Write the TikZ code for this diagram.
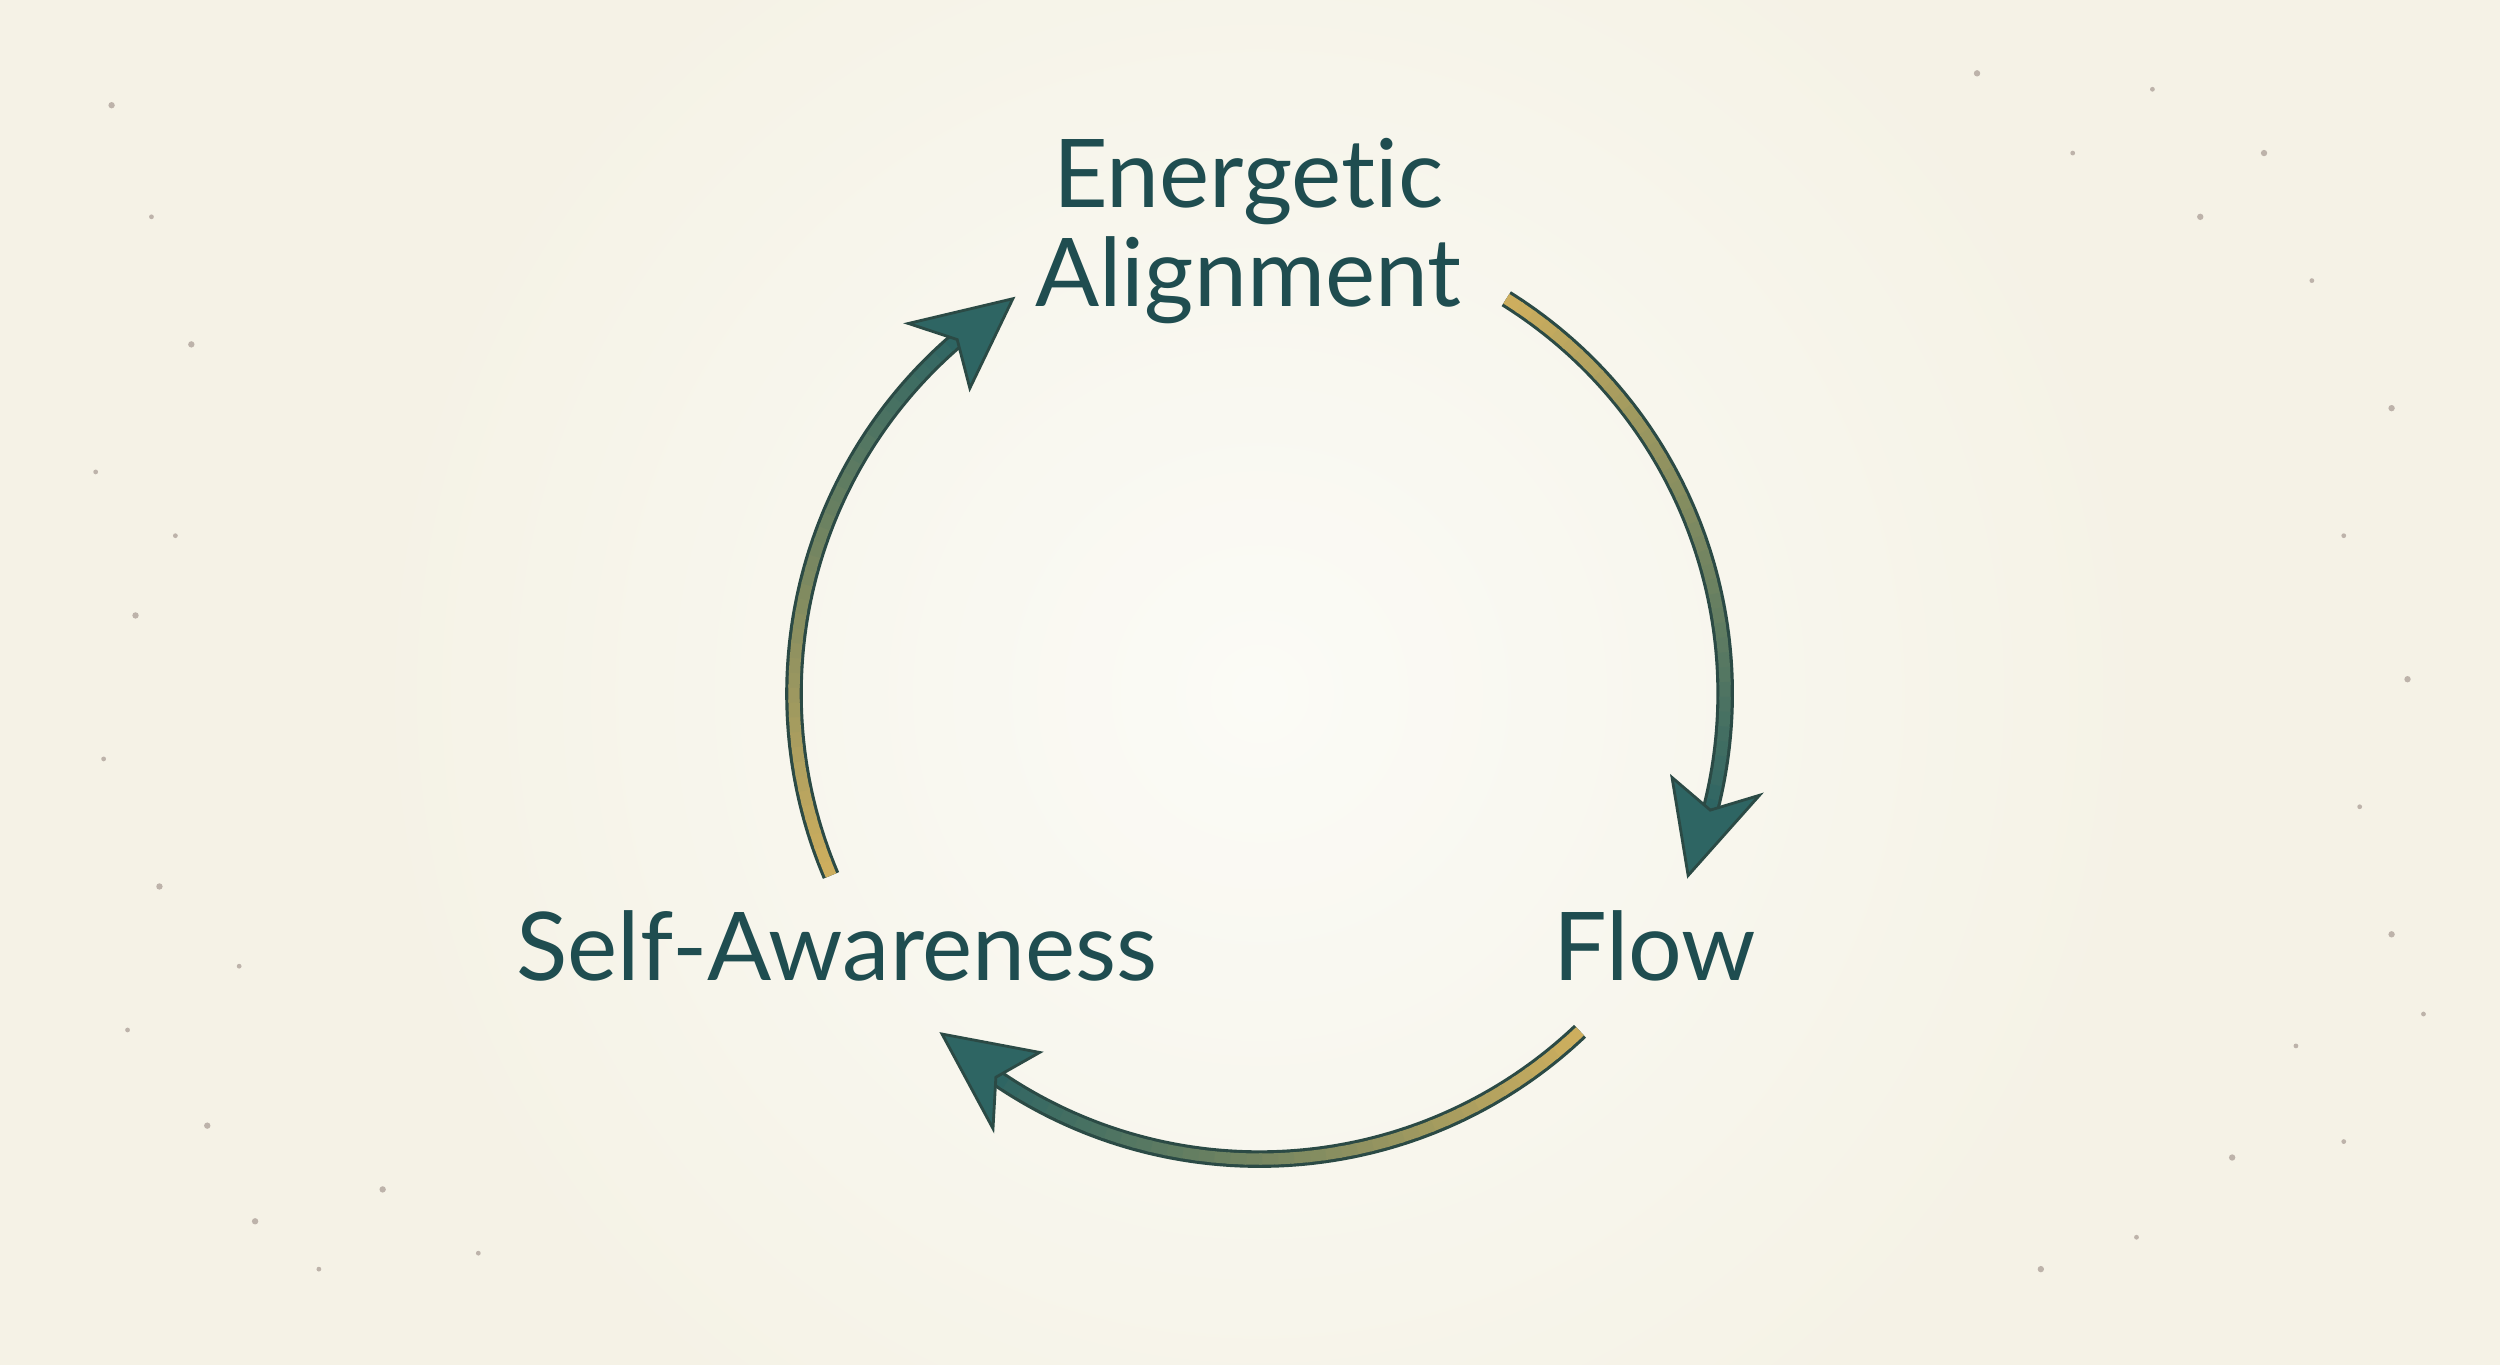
\documentclass[tikz,border=0pt]{standalone}
\usepackage{fontspec}
\setmainfont{Lato}[Ligatures={NoCommon,NoRare,NoDiscretionary}]
\usetikzlibrary{calc}
\definecolor{bgcream}{HTML}{F5F2E6}
\definecolor{bgcentre}{HTML}{FBFBF6}
\definecolor{txtteal}{HTML}{1F4D50}
\definecolor{arrteal}{HTML}{2E6563}
\definecolor{arrgold}{HTML}{CDAE5E}
\definecolor{arredge}{HTML}{2B4A45}
\definecolor{stardot}{HTML}{BDB3AA}
\tikzset{
  label text/.style={text=txtteal,font=\fontsize{27}{31}\selectfont,align=center},
  star dot/.style={fill=stardot,draw=none},
}
% cycle arc: start angle, tip angle
\newcommand{\cyclearc}[2]{%
  \pgfmathsetmacro{\baseang}{#2+10}
  \pgfmathsetmacro{\shaftend}{#2+8}
  \draw[arredge,line width=5pt] ($(ctr)+(#1:292)$) arc[start angle=#1,end angle=\shaftend,radius=292];
  \foreach \i in {0,...,39}{
    \pgfmathsetmacro{\aone}{#1+(\shaftend-#1)*\i/40}
    \pgfmathsetmacro{\atwo}{#1+(\shaftend-#1)*(\i+1.2)/40}
    \pgfmathtruncatemacro{\mix}{100*\i/39}
    \colorlet{segcol}{arrteal!\mix!arrgold}
    \draw[segcol,line width=3.2pt] ($(ctr)+(\aone:292)$) arc[start angle=\aone,end angle=\atwo,radius=292];
  }
  \filldraw[fill=arrteal,draw=arredge,line width=0.8pt,line join=miter]
    ($(ctr)+(#2:292)$) -- ($(ctr)+(\baseang+1.5:264)$) -- ($(ctr)+(\baseang-1.5:292)$)
    -- ($(ctr)+(\baseang+1.5:320)$) -- cycle;
}

\begin{document}
\begin{tikzpicture}[x=0.015944cm,y=0.015944cm]
\useasboundingbox (0,0) rectangle (1568,856);
\fill[bgcream] (0,0) rectangle (1568,856);
\shade[inner color=bgcentre,outer color=bgcream,draw=none] (790,421) circle (560);
\coordinate (ctr) at (790,421);

% scattered dots
\foreach \px/\py/\r in {70/790/2,95/720/1.5,120/640/2,60/560/1.5,85/470/2,65/380/1.5,100/300/2,80/210/1.5,130/150/2,
  160/90/2,200/60/1.5,240/110/2,300/70/1.5,150/250/1.5,110/520/1.5,
  1240/810/2,1300/760/1.5,1380/720/2,1450/680/1.5,1500/600/2,1470/520/1.5,1510/430/2,1480/350/1.5,1500/270/2,
  1440/200/1.5,1400/130/2,1340/80/1.5,1240/810/1.5,1280/60/2,1470/140/1.5,1520/220/1.5,1420/760/2,1350/800/1.5}
  \fill[star dot] (\px,\py) circle (\r);

\node[label text] (align) at (783,711) {Energetic\\[-3pt]Alignment};
\node[label text] (selfaw) at (525,263) {Self-Awareness};
\node[label text] (flow) at (1038,263) {Flow};

\cyclearc{203}{122}
\cyclearc{58}{-23}
\cyclearc{-46.5}{-133}
\end{tikzpicture}
\end{document}
